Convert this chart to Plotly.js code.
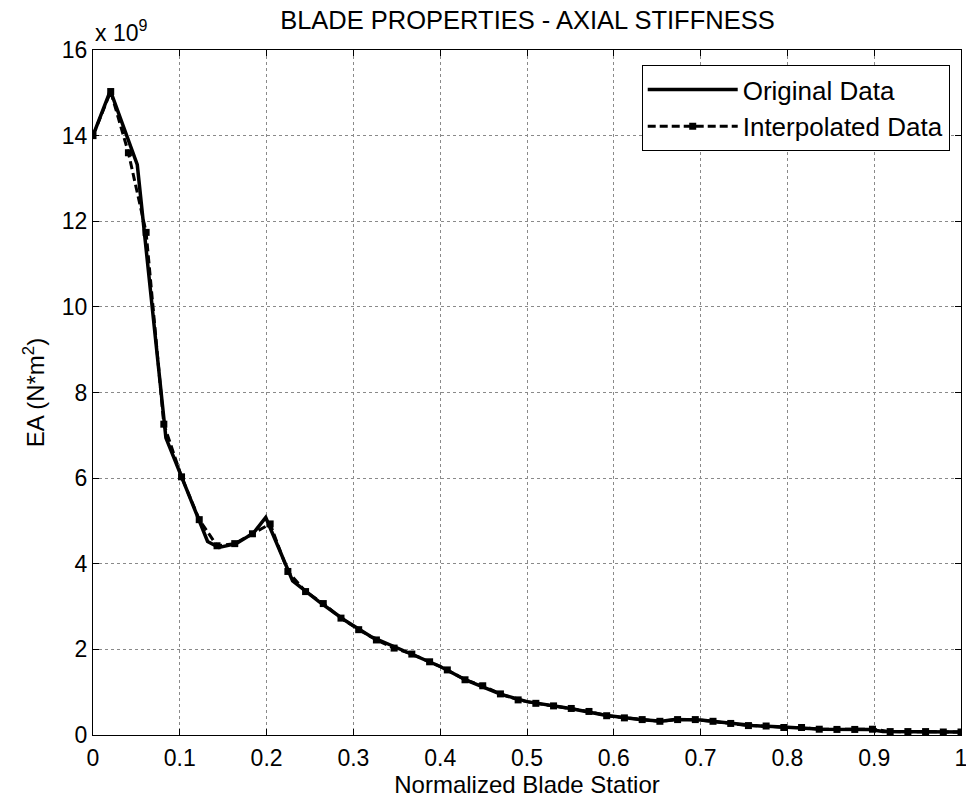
<!DOCTYPE html>
<html>
<head>
<meta charset="utf-8">
<script src="https://cdn.plot.ly/plotly-3.0.1.min.js"></script>
<style>html,body{margin:0;padding:0;background:#fff;}#chart{width:966px;height:807px;}</style>
</head>
<body>
<div id="chart"></div>
<script>
// Original data (station, EA in 1e9 N*m^2)
var origStation = [0, 0.02, 0.051, 0.084, 0.132, 0.145, 0.165, 0.185, 0.199, 0.23, 0.26, 0.29, 0.32, 0.36, 0.40, 0.43, 0.47, 0.50, 0.55, 0.59, 0.63, 0.655, 0.67, 0.70, 0.73, 0.76, 0.80, 0.84, 0.895, 0.91, 0.95, 1.0];
var origEA = [14.0, 15.05, 13.32, 6.94, 4.52, 4.38, 4.47, 4.72, 5.08, 3.60, 3.12, 2.68, 2.30, 1.94, 1.60, 1.28, 0.95, 0.78, 0.62, 0.46, 0.36, 0.32, 0.36, 0.35, 0.28, 0.22, 0.18, 0.135, 0.13, 0.08, 0.075, 0.07];

// Interpolated data: 50 stations from 0 to 1
var interpStation = [0, 0.0204, 0.0408, 0.0612, 0.0816, 0.102, 0.1224, 0.1429, 0.1633, 0.1837, 0.2041, 0.2245, 0.2449, 0.2653, 0.2857, 0.3061, 0.3265, 0.3469, 0.3673, 0.3878, 0.4082, 0.4286, 0.449, 0.4694, 0.4898, 0.5102, 0.5306, 0.551, 0.5714, 0.5918, 0.6122, 0.6327, 0.6531, 0.6735, 0.6939, 0.7143, 0.7347, 0.7551, 0.7755, 0.7959, 0.8163, 0.8367, 0.8571, 0.8776, 0.898, 0.9184, 0.9388, 0.9592, 0.9796, 1.0];
var interpEA = [14.0, 15.03, 13.6, 11.74, 7.26, 6.03, 5.03, 4.42, 4.47, 4.7, 4.93, 3.82, 3.35, 3.07, 2.73, 2.46, 2.22, 2.03, 1.89, 1.71, 1.52, 1.29, 1.15, 0.96, 0.82, 0.74, 0.68, 0.62, 0.55, 0.45, 0.40, 0.36, 0.32, 0.36, 0.36, 0.32, 0.27, 0.22, 0.21, 0.175, 0.175, 0.135, 0.13, 0.13, 0.135, 0.08, 0.08, 0.08, 0.07, 0.07];

var xTicks = [0, 0.1, 0.2, 0.3, 0.4, 0.5, 0.6, 0.7, 0.8, 0.9, 1];
var xTickText = ['0', '0.1', '0.2', '0.3', '0.4', '0.5', '0.6', '0.7', '0.8', '0.9', '1'];
var yTicks = [0, 2, 4, 6, 8, 10, 12, 14, 16];

var FONT = 'Liberation Sans, Arial, sans-serif';

var traces = [
  {
    x: origStation, y: origEA, type: 'scatter', mode: 'lines',
    name: 'Original Data',
    line: {color: '#000', width: 3.5}
  },
  {
    x: interpStation, y: interpEA, type: 'scatter', mode: 'lines+markers',
    name: 'Interpolated Data',
    line: {color: '#000', width: 3, dash: '8px,4px'},
    marker: {symbol: 'square', size: 7, color: '#000'}
  }
];

var axisCommon = {
  showline: true, linecolor: '#000', linewidth: 1, mirror: 'ticks',
  ticks: 'inside', ticklen: 6, tickcolor: '#000',
  showgrid: true, gridcolor: '#8a8a8a', griddash: 'dot', gridwidth: 1,
  zeroline: false, automargin: false,
  tickfont: {family: FONT, size: 23, color: '#000'}
};

var layout = {
  width: 966, height: 807,
  paper_bgcolor: '#fff', plot_bgcolor: '#fff',
  margin: {l: 93, r: 5, t: 50, b: 72},
  font: {family: FONT, color: '#000'},
  title: {text: 'BLADE PROPERTIES - AXIAL STIFFNESS', font: {family: FONT, size: 25.5, color: '#000'}, x: 0.546, xanchor: 'center', y: 0.975, yanchor: 'middle'},
  xaxis: Object.assign({}, axisCommon, {
    range: [0, 1], tickvals: xTicks, ticktext: xTickText,
    ticklabelstandoff: 2, ticklabeloverflow: 'allow',
    title: {text: 'Normalized Blade Statior', font: {family: FONT, size: 24, color: '#000'}, standoff: 4}
  }),
  yaxis: Object.assign({}, axisCommon, {
    range: [0, 16], tickvals: yTicks,
    title: {text: 'EA (N*m<sup>2</sup>)', font: {family: FONT, size: 24, color: '#000'}, standoff: 10}
  }),
  showlegend: true,
  legend: {
    x: 0.987, y: 0.978, xanchor: 'right', yanchor: 'top',
    bgcolor: '#fff', bordercolor: '#000', borderwidth: 1,
    font: {family: FONT, size: 26, color: '#000'},
    itemwidth: 90, tracegroupgap: 0
  },
  annotations: [
    {text: 'x 10<sup>9</sup>', xref: 'paper', yref: 'paper', x: 0, y: 1, xanchor: 'left', yanchor: 'bottom', yshift: 2, showarrow: false, font: {family: FONT, size: 23, color: '#000'}}
  ]
};

Plotly.newPlot('chart', traces, layout, {displayModeBar: false, staticPlot: true});
</script>
</body>
</html>
